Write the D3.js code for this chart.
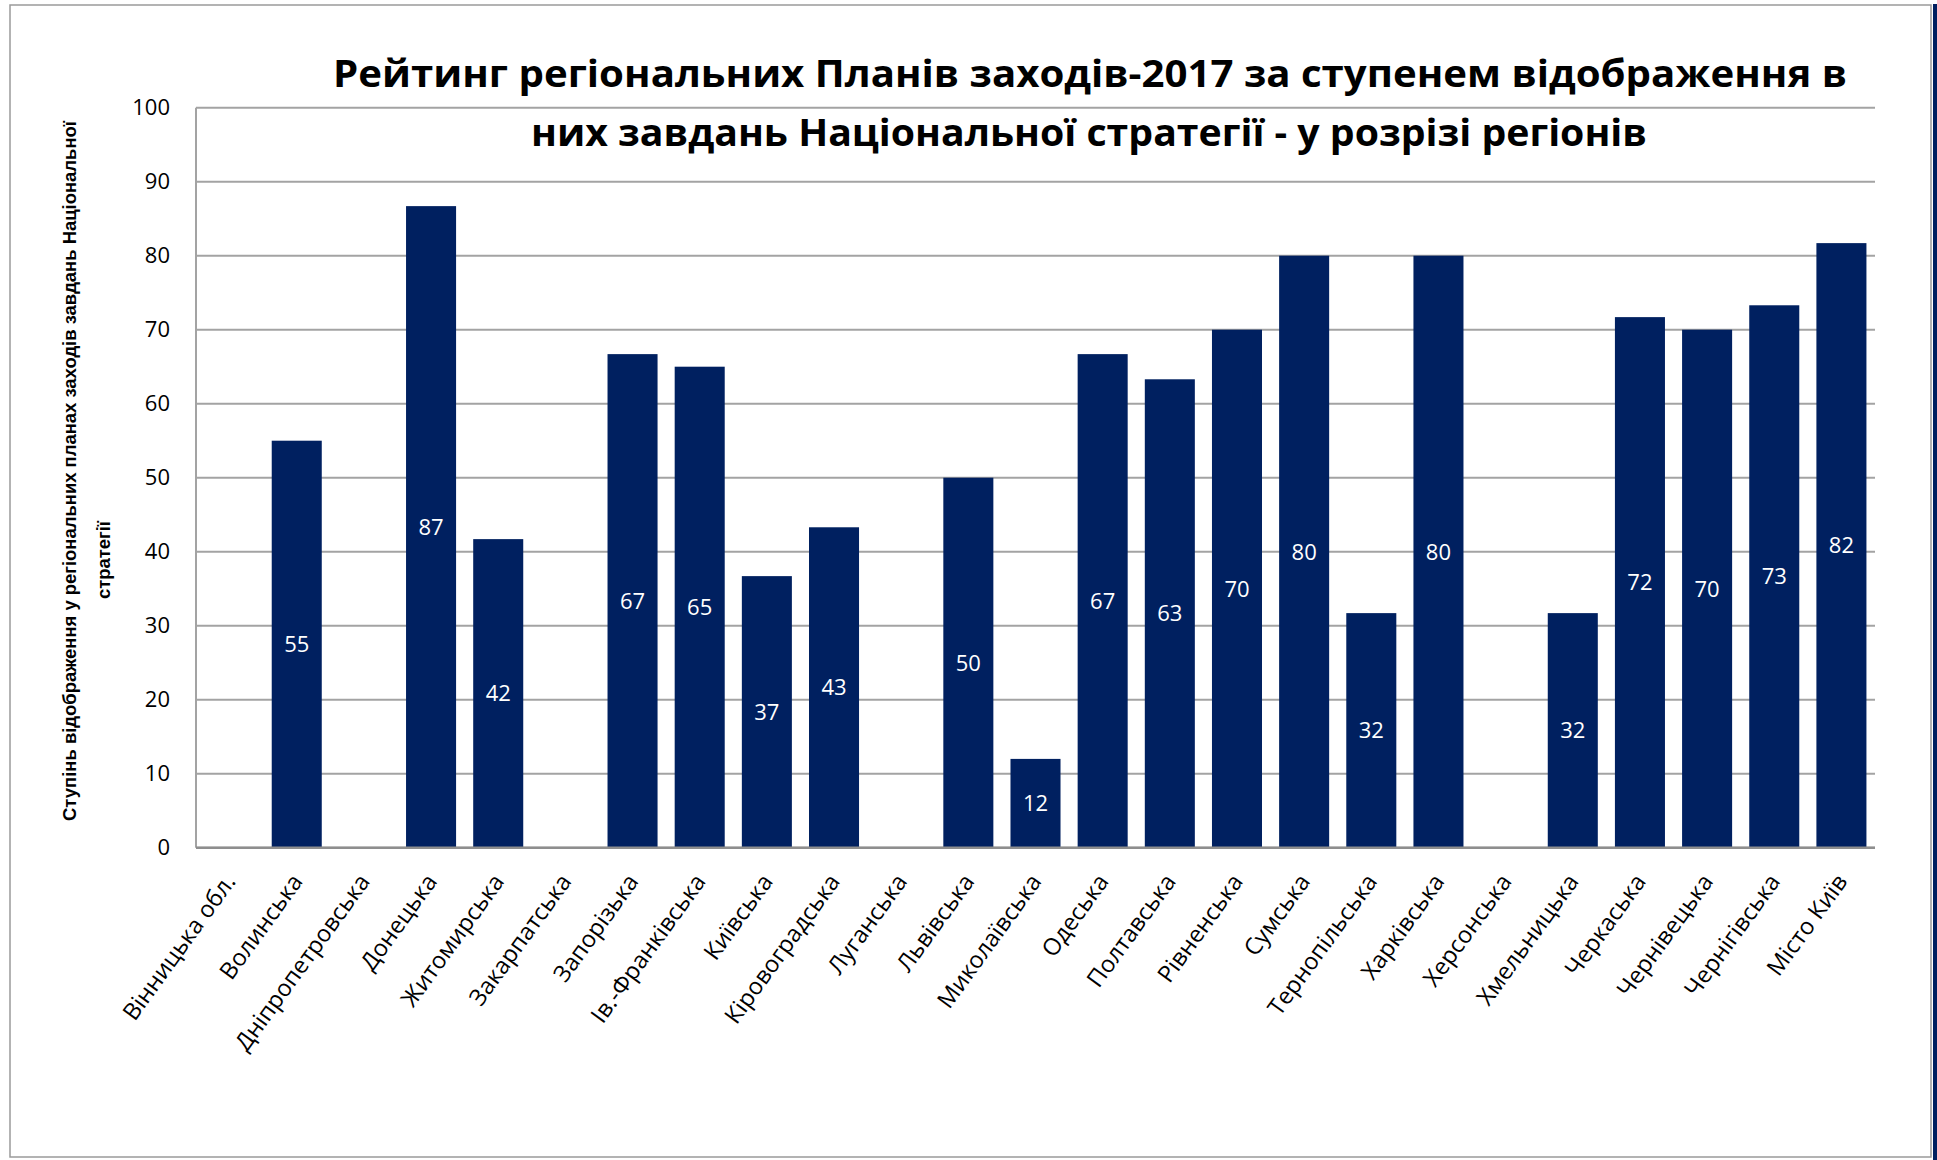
<!DOCTYPE html>
<html>
<head>
<meta charset="utf-8">
<script src="https://cdn.jsdelivr.net/npm/d3@7"></script>
<style>
  body { margin: 0; background: #fff; }
  svg { display: block; }
</style>
</head>
<body>
<script>
const regions = ['Вінницька обл.', 'Волинська', 'Дніпропетровська', 'Донецька', 'Житомирська',
  'Закарпатська', 'Запорізька', 'Ів.-Франківська', 'Київська', 'Кіровоградська', 'Луганська',
  'Львівська', 'Миколаївська', 'Одеська', 'Полтавська', 'Рівненська', 'Сумська', 'Тернопільська',
  'Харківська', 'Херсонська', 'Хмельницька', 'Черкаська', 'Чернівецька', 'Чернігівська', 'Місто Київ']
const scores = [0, 55, 0, 86.7, 41.7, 0, 66.7, 65, 36.7, 43.3, 0, 50, 12, 66.7, 63.3, 70, 80, 31.7,
  80, 0, 31.7, 71.7, 70, 73.3, 81.7]
const yTicks = [0, 10, 20, 30, 40, 50, 60, 70, 80, 90, 100]
const titleLines = ['Рейтинг регіональних Планів заходів-2017 за ступенем відображення в',
  'них завдань Національної стратегії - у розрізі регіонів']
const yTitleLines = ['Ступінь відображення у регіональних планах заходів завдань Національної', 'стратегії']

const w = 1937
const h = 1160
const plotL = 196, plotR = 1875, plotT = 107.7, plotB = 847.7
const barColor = '#002060'
const gridColor = '#a3a3a3'
const font = '"Open Sans", "DejaVu Sans", sans-serif'

const svg = d3.select('body').append('svg')
  .attr('width', w)
  .attr('height', h)

// outer frame
svg.append('rect')
  .attr('x', 10).attr('y', 5)
  .attr('width', 1921).attr('height', 1152)
  .attr('fill', 'none')
  .attr('stroke', '#9a9a9a')
  .attr('stroke-width', 1.5)
svg.append('rect')
  .attr('x', 1933).attr('y', 4)
  .attr('width', 4).attr('height', 1156)
  .attr('fill', barColor)

const x = d3.scaleBand()
  .domain(regions)
  .range([plotL, plotR])
  .paddingInner(0.255)
  .paddingOuter(0.1275)

const y = d3.scaleLinear()
  .domain([0, 100])
  .range([plotB, plotT])

// gridlines
svg.append('g')
  .selectAll('line')
  .data(yTicks)
  .enter()
  .append('line')
  .attr('x1', plotL).attr('x2', plotR)
  .attr('y1', d => y(d)).attr('y2', d => y(d))
  .attr('stroke', gridColor)
  .attr('stroke-width', 2)

// y tick labels
const yAxis = svg.append('g')
  .attr('transform', `translate(${plotL},0)`)
  .call(d3.axisLeft(y).tickValues(yTicks).tickSize(0).tickPadding(26))
yAxis.select('.domain').remove()
yAxis.selectAll('text')
  .attr('font-family', font)
  .attr('font-size', 22)
  .attr('fill', '#000')

// bars
svg.append('g')
  .selectAll('rect')
  .data(regions.map((r, i) => ({ r: r, v: scores[i] })))
  .enter()
  .append('rect')
  .attr('x', d => x(d.r))
  .attr('y', d => y(d.v))
  .attr('width', x.bandwidth())
  .attr('height', d => y(0) - y(d.v))
  .attr('fill', barColor)

// data labels
svg.append('g')
  .selectAll('text')
  .data(regions.map((r, i) => ({ r: r, v: scores[i] })).filter(d => d.v > 0))
  .enter()
  .append('text')
  .attr('x', d => x(d.r) + x.bandwidth() / 2)
  .attr('y', d => (y(d.v) + y(0)) / 2)
  .attr('dy', '0.36em')
  .attr('text-anchor', 'middle')
  .attr('font-family', font)
  .attr('font-size', 22)
  .attr('fill', '#fff')
  .text(d => d3.format('.0f')(d.v))

// axis lines
svg.append('line')
  .attr('x1', plotL).attr('x2', plotL)
  .attr('y1', plotT).attr('y2', plotB)
  .attr('stroke', gridColor).attr('stroke-width', 2)
svg.append('line')
  .attr('x1', plotL).attr('x2', plotR)
  .attr('y1', plotB).attr('y2', plotB)
  .attr('stroke', '#8e8e8e').attr('stroke-width', 2.5)

// category labels
svg.append('g')
  .selectAll('text')
  .data(regions)
  .enter()
  .append('text')
  .attr('transform', d => `translate(${x(d) + x.bandwidth() / 2 + 7},${plotB + 34}) rotate(-54)`)
  .attr('text-anchor', 'end')
  .attr('font-family', font)
  .attr('font-size', 23.5)
  .attr('fill', '#000')
  .text(d => d)

// title
const titleSpecs = [{ cx: 1090, y: 86.7, len: 1514 }, { cx: 1089, y: 146, len: 1116 }]
svg.append('g')
  .selectAll('text')
  .data(titleLines)
  .enter()
  .append('text')
  .attr('x', (d, i) => titleSpecs[i].cx)
  .attr('y', (d, i) => titleSpecs[i].y)
  .attr('text-anchor', 'middle')
  .attr('font-family', font)
  .attr('font-weight', 'bold')
  .attr('font-size', 38)
  .attr('textLength', (d, i) => titleSpecs[i].len)
  .attr('lengthAdjust', 'spacingAndGlyphs')
  .text(d => d)

// y axis title: 18.5px glyphs, letter spacing tightened so the long line spans ~700px
const yTitleSpecs = [{ x: 76, cy: 471 }, { x: 110, cy: 560 }]
const yTitle = svg.append('g')
  .selectAll('text')
  .data(yTitleLines)
  .enter()
  .append('text')
  .attr('transform', (d, i) => `translate(${yTitleSpecs[i].x},${yTitleSpecs[i].cy}) rotate(-90)`)
  .attr('text-anchor', 'middle')
  .attr('font-family', '"Liberation Sans", Arial, sans-serif')
  .attr('font-weight', 'bold')
  .attr('font-size', 18.5)
  .text(d => d)
const natural = yTitle.node().getComputedTextLength()
const ls = Math.max(-1.2, Math.min(0, (700 - natural) / (yTitleLines[0].length - 1)))
yTitle.attr('letter-spacing', ls)
</script>
</body>
</html>
